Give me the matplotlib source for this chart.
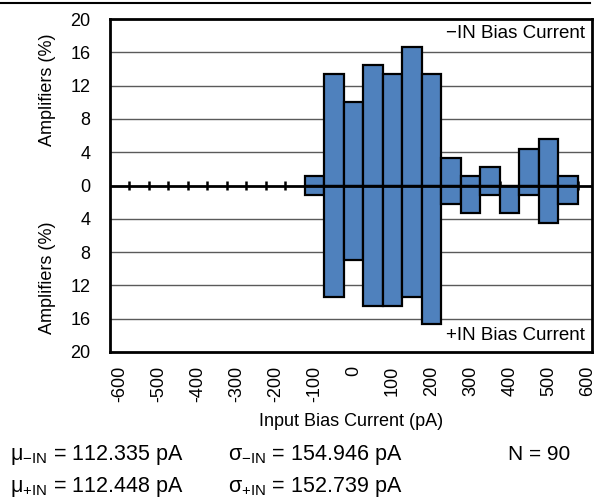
import numpy as np
import matplotlib
matplotlib.use("Agg")
import matplotlib.pyplot as plt

# Histogram bins (pA), 50 pA wide, and counts out of N = 90 amplifiers
bin_centers = [-100, -50, 0, 50, 100, 150, 200, 250, 300, 350, 400, 450, 500, 550]
counts_neg_in = [1, 12, 9, 13, 12, 15, 12, 3, 1, 2, 0, 4, 5, 1]
counts_pos_in = [1, 12, 8, 13, 13, 12, 15, 2, 3, 1, 3, 1, 4, 2]
n_total = 90

y_ticks = [-20, -16, -12, -8, -4, 0, 4, 8, 12, 16, 20]
x_ticks = [-600, -500, -400, -300, -200, -100, 0, 100, 200, 300, 400, 500, 600]
edge_ticks = list(range(-575, 576, 50))

stats = [
    (r"$\mathrm{μ_{−IN}}$ = 112.335 pA", r"$\mathrm{σ_{−IN}}$ = 154.946 pA"),
    (r"$\mathrm{μ_{+IN}}$ = 112.448 pA", r"$\mathrm{σ_{+IN}}$ = 152.739 pA"),
]

plt.rcParams.update({
    "font.family": "Liberation Sans",
    "font.size": 13,
    "mathtext.fontset": "custom",
    "mathtext.rm": "Liberation Sans",
    "mathtext.it": "Liberation Sans:italic",
})

bar_color = "#4F81BD"
pct_neg = np.array(counts_neg_in) / n_total * 100
pct_pos = np.array(counts_pos_in) / n_total * 100

fig = plt.figure(figsize=(5.97, 4.99), dpi=100)
ax = fig.add_axes([110 / 597, 1 - 352 / 499, (592 - 110) / 597, (352 - 19) / 499])

ax.bar(bin_centers, pct_neg, width=50, color=bar_color, edgecolor="black", linewidth=1.6, zorder=3)
ax.bar(bin_centers, -pct_pos, width=50, color=bar_color, edgecolor="black", linewidth=1.6, zorder=3)

# grid lines
for y in y_ticks:
    if y not in (-20, 0, 20):
        ax.axhline(y, color="#5a5a5a", linewidth=1, zorder=1)

# zero line with bin edge ticks
ax.axhline(0, color="black", linewidth=2, zorder=4)
ax.vlines(edge_ticks, -0.5, 0.5, color="black", linewidth=1.8, zorder=2)

ax.set_xlim(-624, 611)
ax.set_ylim(-20, 20)
ax.set_yticks(y_ticks)
ax.set_yticklabels([str(abs(v)) for v in y_ticks])
ax.set_xticks(x_ticks)
ax.set_xticklabels([str(v) for v in x_ticks], rotation=90)
ax.tick_params(axis="both", length=0)
ax.tick_params(axis="y", pad=14)
ax.tick_params(axis="x", pad=10)
for s in ax.spines.values():
    s.set_linewidth(2)

ax.set_xlabel("Input Bias Current (pA)", labelpad=8)

ax.text(0.985, 0.955, "−IN Bias Current", transform=ax.transAxes, ha="right", va="center", fontsize=13.5)
ax.text(0.985, 0.05, "+IN Bias Current", transform=ax.transAxes, ha="right", va="center", fontsize=13.5)

fig.text(48 / 597, 1 - 90 / 499, "Amplifiers (%)", rotation=90, ha="center", va="center")
fig.text(48 / 597, 1 - 278 / 499, "Amplifiers (%)", rotation=90, ha="center", va="center")

# statistics block
row_y = [455, 487]
for (mu, sigma), yy in zip(stats, row_y):
    fig.text(10 / 597, 1 - yy / 499, mu, ha="left", va="center", fontsize=15.5)
    fig.text(228 / 597, 1 - yy / 499, sigma, ha="left", va="center", fontsize=15.5)
fig.text(508 / 597, 1 - row_y[0] / 499, "N = %d" % n_total, ha="left", va="center", fontsize=15)

# page rule at the top
fig.add_artist(plt.Line2D([0, 590 / 597], [1 - 3 / 499, 1 - 3 / 499], color="black", linewidth=1.5))

fig.savefig("out.png", dpi=100, facecolor="white")
